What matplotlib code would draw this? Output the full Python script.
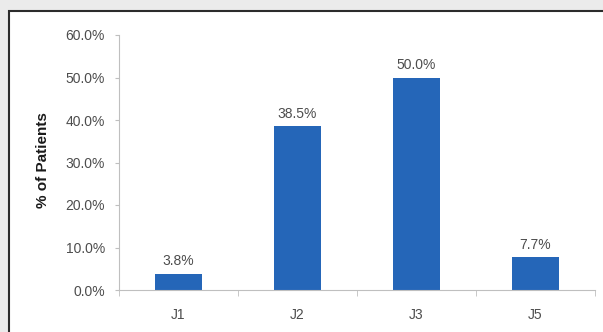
import numpy as np
import matplotlib.pyplot as plt
from matplotlib.patches import Rectangle
from matplotlib.ticker import FuncFormatter

plt.rcParams['font.family'] = ['Liberation Sans', 'DejaVu Sans']

categories = ['J1', 'J2', 'J3', 'J5']
values = [3.8, 38.5, 50.0, 7.7]
yticks = [0, 10, 20, 30, 40, 50, 60]

W, H = 603, 332
fig = plt.figure(figsize=(W/100, H/100), dpi=100, facecolor='#ebebeb')

# white panel with dark border, behind everything
bg = fig.add_axes([0, 0, 1, 1], zorder=-5)
bg.set_axis_off()
bg.set_xlim(0, W)
bg.set_ylim(H, 0)
bg.add_patch(Rectangle((9, 11), W + 20, H + 20, facecolor='white',
                       edgecolor='#2b2b2b', linewidth=1.5))

ax = fig.add_axes([119/W, 1 - 290/H, (595-119)/W, (290-35)/H])
ax.set_facecolor('none')

x = np.arange(len(categories))
bars = ax.bar(x, values, width=0.4, color='#2566b8', zorder=2)
for b, v in zip(bars, values):
    ax.annotate(f'{v:.1f}%', (b.get_x() + b.get_width()/2, v), xytext=(0, 4),
                textcoords='offset points', ha='center', va='bottom',
                fontsize=10, color='#4d4d4d')

ax.set_xlim(-0.5, len(categories) - 0.5)
ax.set_ylim(0, 60)
ax.set_yticks(yticks)
ax.yaxis.set_major_formatter(FuncFormatter(lambda v, p: f'{v:.1f}%'))
ax.set_xticks(x)
ax.set_xticklabels(categories)
ax.set_xticks(np.arange(-0.5, len(categories), 1.0), minor=True)

for s in ['top', 'right']:
    ax.spines[s].set_visible(False)
ax.spines['left'].set_color('#bfbfbf')
ax.spines['bottom'].set_color('#bfbfbf')
ax.tick_params(axis='y', colors='#4d4d4d', labelsize=10, length=3, color='#bfbfbf', pad=7)
ax.tick_params(axis='x', which='major', colors='#4d4d4d', labelsize=10, length=0, pad=13)
ax.tick_params(axis='x', which='minor', length=4, color='#bfbfbf')

ax.set_ylabel('% of Patients', fontsize=11, fontweight='bold', color='#1a1a1a')
ax.yaxis.set_label_coords(-0.145, 0.51)

fig.savefig('out.png', dpi=100, facecolor=fig.get_facecolor())
